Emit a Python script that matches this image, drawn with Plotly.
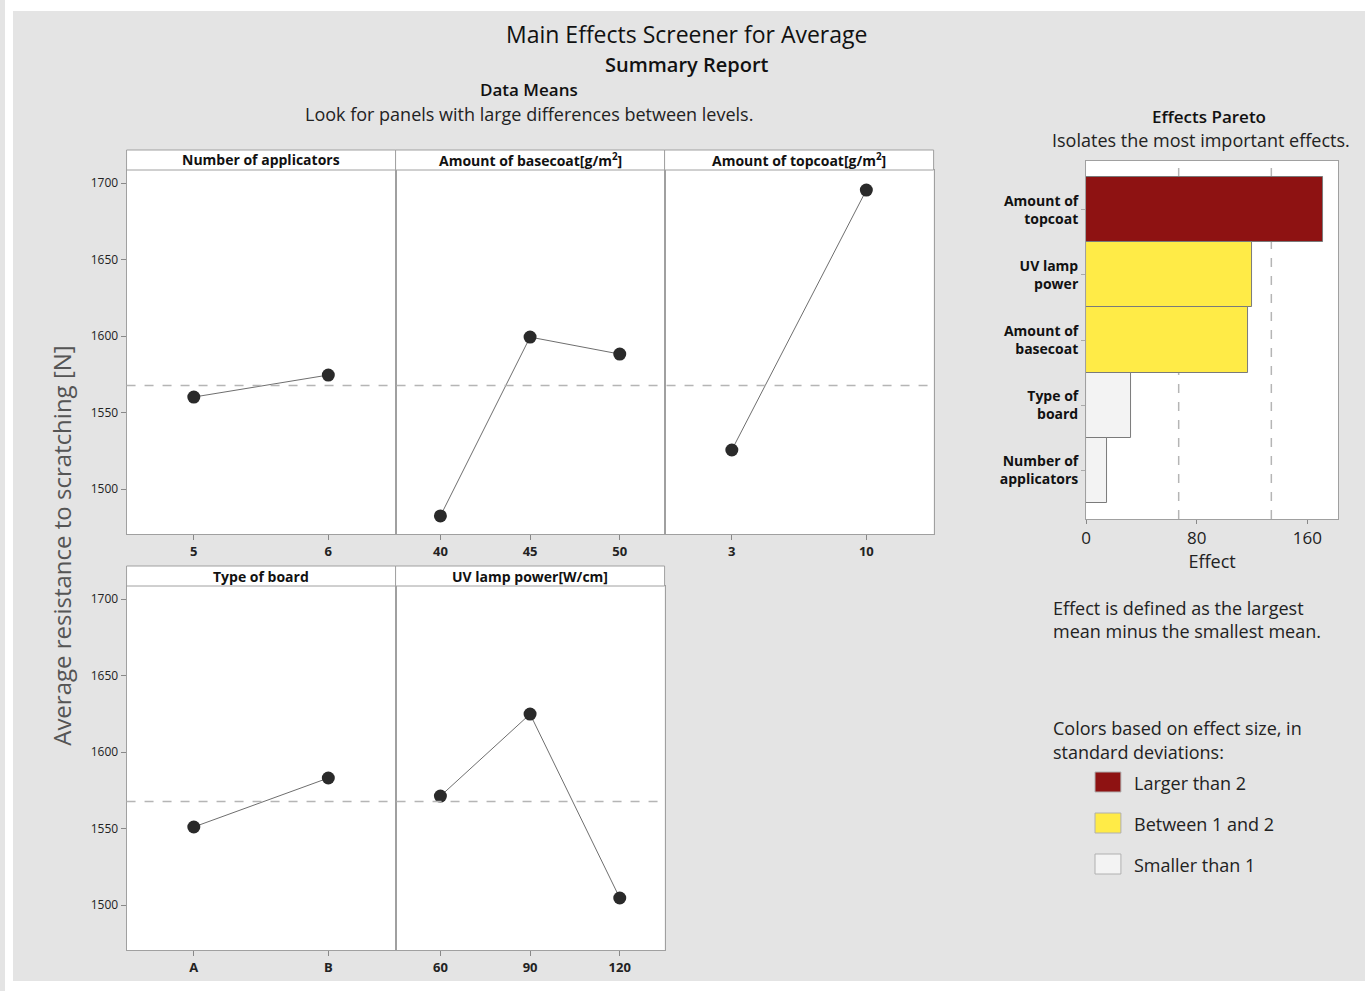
import plotly.graph_objects as go

W, H = 1370, 991
FONT = "Open Sans"

# ---------------- data ----------------
factors = ["Number of applicators", "Amount of basecoat[g/m<sup>2</sup>]",
           "Amount of topcoat[g/m<sup>2</sup>]", "Type of board", "UV lamp power[W/cm]"]
levels = [["5", "6"], ["40", "45", "50"], ["3", "10"], ["A", "B"], ["60", "90", "120"]]
means = [[1560.1, 1574.5], [1482.4, 1599.3, 1588.2], [1525.5, 1695.4],
         [1551.0, 1583.0], [1571.2, 1624.8, 1504.6]]
grand_mean = 1567.7
y_ticks = [1500, 1550, 1600, 1650, 1700]

pareto_names = ["Amount of<br>topcoat", "UV lamp<br>power", "Amount of<br>basecoat",
                "Type of<br>board", "Number of<br>applicators"]
pareto_effects = [171.3, 120.3, 117.4, 32.3, 15.0]
pareto_colors = ["#8e1212", "#ffeb47", "#ffeb47", "#f3f3f3", "#f3f3f3"]
sd_lines = [67, 134]
pareto_ticks = [0, 80, 160]
legend_labels = ["Larger than 2", "Between 1 and 2", "Smaller than 1"]
legend_colors = ["#8e1212", "#ffeb47", "#f3f3f3"]


def px(x):
    return x / W


def py(y):
    return 1 - y / H


# panel geometry (pixels)
panel_x = [(122, 392), (392, 662), (662, 932), (122, 392), (392, 662)]
row_y = [(170, 534), (170, 534), (170, 534), (586, 950), (586, 950)]
yrange = [1470.6, 1708.5]

fig = go.Figure()
layout = dict(width=W, height=H, margin=dict(l=0, r=0, t=0, b=0),
              paper_bgcolor="#e4e4e4", plot_bgcolor="white", showlegend=False,
              font=dict(family=FONT, color="#222"))
shapes = []
annotations = []

# white page border around the gray report
for (a, b, c, d) in ((0, 8, 0, H), (1365, W, 0, H), (0, W, 0, 11), (0, W, 981, H)):
    shapes.append(dict(type="rect", xref="paper", yref="paper", x0=px(a), x1=px(b),
                       y0=py(d), y1=py(c), fillcolor="white", line=dict(width=0)))

for i in range(5):
    ax = "" if i == 0 else str(i + 1)
    xa, ya = "xaxis" + ax, "yaxis" + ax
    x0, x1 = panel_x[i]
    y0, y1 = row_y[i]
    n = len(levels[i])
    fig.add_trace(go.Scatter(
        x=levels[i], y=means[i], mode="lines+markers",
        line=dict(color="#6e6e6e", width=1),
        marker=dict(color="#2a2a2a", size=13, symbol="circle"),
        xaxis="x" + ax, yaxis="y" + ax, hoverinfo="x+y"))
    layout[xa] = dict(domain=[px(x0), px(x1)], anchor="y" + ax, type="category",
                      range=[-0.5, n - 0.5], showgrid=False, zeroline=False,
                      showline=True, linecolor="#a0a0a0", linewidth=1, mirror=True,
                      ticks="outside", ticklen=5, tickcolor="#888",
                      tickfont=dict(size=13, color="#222", weight="bold"))
    left = i in (0, 3)
    layout[ya] = dict(domain=[py(y1), py(y0)], anchor="x" + ax, range=yrange,
                      tickvals=y_ticks, showgrid=False, zeroline=False,
                      showline=True, linecolor="#a0a0a0", linewidth=1, mirror=True,
                      ticks="outside" if left else "", ticklen=5, tickcolor="#888",
                      showticklabels=left, tickfont=dict(size=12, color="#222"))
    # header strip
    shapes.append(dict(type="rect", xref="paper", yref="paper", x0=px(x0), x1=px(x1),
                       y0=py(y0), y1=py(y0 - 20), fillcolor="white",
                       line=dict(color="#a0a0a0", width=1)))
    annotations.append(dict(text="<b>" + factors[i] + "</b>", xref="paper", yref="paper",
                            x=px((x0 + x1) / 2), y=py(y0 - 10), showarrow=False,
                            font=dict(size=14, color="#111"), xanchor="center",
                            yanchor="middle"))

# grand mean dashed lines
for (ya, xs) in (("y", (122, 932)), ("y4", (122, 662))):
    shapes.append(dict(type="line", xref="paper", yref=ya, x0=px(xs[0]), x1=px(xs[1]),
                       y0=grand_mean, y1=grand_mean,
                       line=dict(color="#b5b5b5", width=1.5, dash="dash")))

# Pareto chart
fig.add_trace(go.Bar(
    x=pareto_effects, y=pareto_names, orientation="h",
    marker=dict(color=pareto_colors, line=dict(color="#7a7a7a", width=1)),
    xaxis="x6", yaxis="y6", width=1.0, hoverinfo="x"))
layout["xaxis6"] = dict(domain=[px(1085), px(1338)], anchor="y6", range=[0, 182.3],
                        tickvals=pareto_ticks, showgrid=False, zeroline=False,
                        showline=True, linecolor="#a0a0a0", mirror=True,
                        ticks="outside", ticklen=4, tickcolor="#888",
                        tickfont=dict(size=17, color="#222"),
                        title=dict(text="Effect", font=dict(size=18, color="#222"), standoff=6))
layout["yaxis6"] = dict(domain=[py(519), py(161)], anchor="x6", type="category",
                        range=[4.75, -0.75], showgrid=False, zeroline=False,
                        showline=True, linecolor="#a0a0a0", mirror=True,
                        ticks="outside", ticklen=4, tickcolor="#aaa",
                        tickfont=dict(size=14, color="#111", weight="bold"))
layout["bargap"] = 0
for v in sd_lines:
    shapes.append(dict(type="line", xref="x6", yref="paper", x0=v, x1=v,
                       y0=py(519), y1=py(161),
                       line=dict(color="#b5b5b5", width=1.5, dash="dash"), layer="below"))


def txt(s, x, y, size, xanchor="center", color="#111", weight="normal"):
    annotations.append(dict(text=s, xref="paper", yref="paper",
                            x=px(x), y=py(y), showarrow=False, xanchor=xanchor,
                            yanchor="middle", align="left",
                            font=dict(size=size, color=color, weight=weight)))


txt("Main Effects Screener for Average", 684, 34, 23)
txt("Summary Report", 684, 64, 20, weight=600)
txt("Data Means", 526, 90, 17, weight=600)
txt("Look for panels with large differences between levels.", 526, 114, 18, color="#222")
txt("Effects Pareto", 1208, 117, 17, weight=600)
txt("Isolates the most important effects.", 1200, 140, 18, color="#222")
txt("Effect is defined as the largest", 1050, 608, 18, xanchor="left", color="#222")
txt("mean minus the smallest mean.", 1050, 631, 18, xanchor="left", color="#222")
txt("Colors based on effect size, in", 1050, 728, 18, xanchor="left", color="#222")
txt("standard deviations:", 1050, 752, 18, xanchor="left", color="#222")

for k, (lab, col) in enumerate(zip(legend_labels, legend_colors)):
    yc = 782 + k * 41
    shapes.append(dict(type="rect", xref="paper", yref="paper", x0=px(1094), x1=px(1120),
                       y0=py(yc + 10), y1=py(yc - 10), fillcolor=col,
                       line=dict(color="#b0b0b0", width=1)))
    txt(lab, 1131, yc + 1, 18, xanchor="left", color="#222")

annotations.append(dict(text="Average resistance to scratching [N]", xref="paper", yref="paper",
                        x=px(56), y=py(546), showarrow=False, textangle=-90,
                        xanchor="center", yanchor="middle",
                        font=dict(size=24, color="#555")))

layout["shapes"] = shapes
layout["annotations"] = annotations
fig.update_layout(**layout)
fig.write_html("out.html", config={"displayModeBar": False},
               post_script="document.body.style.margin='0';document.body.style.overflow='hidden';")
